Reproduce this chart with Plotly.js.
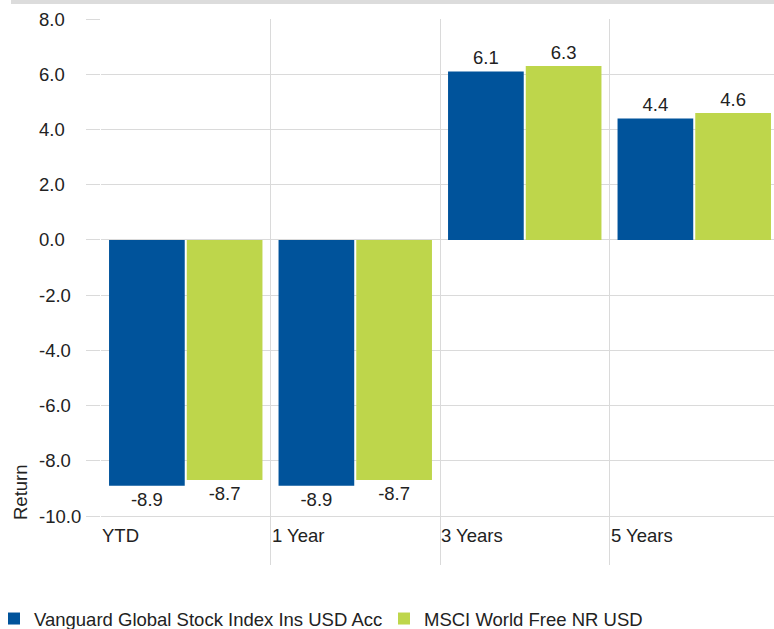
<!DOCTYPE html>
<html>
<head>
<meta charset="utf-8">
<script src="https://cdn.plot.ly/plotly-3.0.1.min.js"></script>
<style>html,body{margin:0;padding:0;background:#fff}#chart{width:774px;height:629px}</style>
</head>
<body>
<div id="chart"></div>
<script>
const categories = ["YTD", "1 Year", "3 Years", "5 Years"];
const seriesNames = ["Vanguard Global Stock Index Ins USD Acc", "MSCI World Free NR USD"];
const fundReturns = [-8.9, -8.9, 6.1, 4.4];
const indexReturns = [-8.7, -8.7, 6.3, 4.6];
const yTickValues = [-10, -8, -6, -4, -2, 0, 2, 4, 6, 8];
const yTickLabels = ["-10.0", "-8.0", "-6.0", "-4.0", "-2.0", "0.0", "2.0", "4.0", "6.0", "8.0"];
const yAxisTitle = "Return";

const FONT = "Arial, 'Liberation Sans', sans-serif";
const FS = 18.5;
const GRID = "#dadada";
const colors = ["#00539b", "#bed64b"];

const W = 774, H = 629;
const M = {l: 101, r: 0, t: 19, b: 64, autoexpand: false};
const plotW = W - M.l - M.r, plotH = H - M.t - M.b;
const catW = 169.5;
const pxPerUnit = 497 / 18;

function paperX(px) { return (px - M.l) / plotW; }
function paperY(py) { return (H - M.b - py) / plotH; }

const legendNames = ["legend", "legend2"];
const traces = [fundReturns, indexReturns].map((vals, i) => ({
  type: "bar",
  name: seriesNames[i],
  legend: legendNames[i],
  x: categories,
  y: vals,
  marker: {color: colors[i], line: {width: 0}},
  text: vals.map(v => v.toFixed(1)),
  textposition: "outside",
  textfont: {family: FONT, size: FS, color: "#222"},
  cliponaxis: false,
  hoverinfo: "skip"
}));

const annotations = categories.map((c, i) => ({
  xref: "x", yref: "y", x: i - 0.5, y: -10,
  text: c, showarrow: false, xanchor: "left", yanchor: "top",
  yshift: -7, xshift: -1,
  font: {family: FONT, size: FS, color: "#222"}
}));
yTickValues.forEach((v, i) => annotations.push({
  xref: "paper", yref: "y", x: paperX(37), y: v,
  text: yTickLabels[i], showarrow: false, xanchor: "left", yanchor: "middle",
  font: {family: FONT, size: FS, color: "#222"}
}));
annotations.push({
  xref: "paper", yref: "paper", x: paperX(20), y: paperY(492),
  text: yAxisTitle, textangle: -90, showarrow: false,
  xanchor: "center", yanchor: "middle",
  font: {family: FONT, size: FS, color: "#222"}
});

const legendBase = {
  orientation: "h", y: paperY(619), xanchor: "left", yanchor: "middle",
  font: {family: FONT, size: FS, color: "#222"},
  itemclick: false, itemdoubleclick: false, bgcolor: "rgba(0,0,0,0)"
};

const layout = {
  width: W, height: H,
  margin: M,
  paper_bgcolor: "#fff", plot_bgcolor: "#fff",
  font: {family: FONT, size: FS, color: "#222"},
  barmode: "group",
  bargap: 0.083,
  bargroupgap: 0.026,
  showlegend: true,
  legend: Object.assign({}, legendBase, {x: paperX(-6)}),
  legend2: Object.assign({}, legendBase, {x: paperX(384)}),
  xaxis: {
    type: "category",
    range: [-0.5, -0.5 + plotW / catW],
    tickson: "boundaries",
    showgrid: true, gridcolor: GRID, gridwidth: 1,
    showticklabels: false, ticks: "", showline: false, zeroline: false,
    fixedrange: true
  },
  yaxis: {
    range: [-10 - (plotH - 497) / pxPerUnit, 8],
    tickvals: yTickValues, ticktext: yTickLabels,
    showticklabels: false,
    showgrid: true, gridcolor: GRID, gridwidth: 1,
    zeroline: true, zerolinecolor: GRID, zerolinewidth: 1,
    ticks: "outside", ticklen: 14, tickcolor: GRID, tickwidth: 1,
    showline: false, fixedrange: true
  },
  shapes: [{
    type: "rect", xref: "paper", yref: "paper",
    x0: paperX(11), x1: paperX(774), y0: paperY(4), y1: paperY(0),
    fillcolor: "#dcdcdc", line: {width: 0}, layer: "below"
  }],
  annotations: annotations
};

Plotly.newPlot("chart", traces, layout, {displayModeBar: false, staticPlot: true});
</script>
</body>
</html>
